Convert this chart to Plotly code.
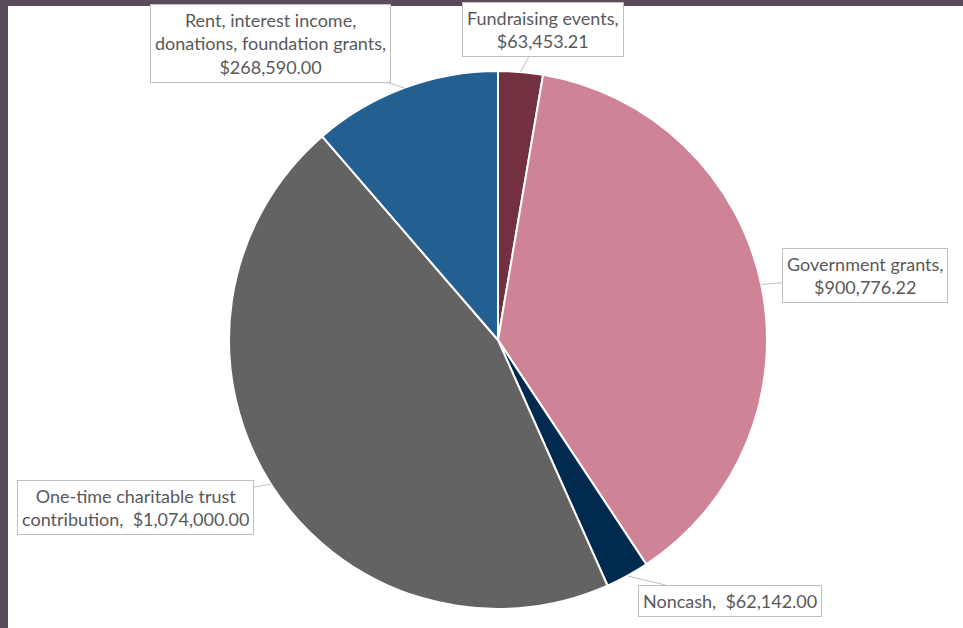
import math
import plotly.graph_objects as go

categories = ["Fundraising events", "Government grants", "Noncash",
              "One-time charitable trust contribution",
              "Rent, interest income, donations, foundation grants"]
values = [63453.21, 900776.22, 62142.00, 1074000.00, 268590.00]
label_texts = ["Fundraising events,<br>$63,453.21",
               "Government grants,<br>$900,776.22",
               "Noncash,  $62,142.00",
               "One-time charitable trust<br>contribution,  $1,074,000.00",
               "Rent, interest income,<br>donations, foundation grants,<br>$268,590.00"]
colors = ["#73303f", "#cf8396", "#012a4f", "#636363", "#245f92"]

W, H = 963, 628
cx, cy, r = 498, 340, 269  # pixel center/radius of pie

fig = go.Figure(go.Pie(
    labels=categories, values=values, sort=False, direction="clockwise",
    rotation=0, textinfo="none", hoverinfo="label+value",
    marker=dict(colors=colors, line=dict(color="white", width=2)),
    domain=dict(x=[(cx - r) / W, (cx + r) / W],
                y=[(H - cy - r) / H, (H - cy + r) / H]),
    showlegend=False,
))

# label box centers (pixels)
box_centers = [(543, 30), (865, 275.5), (729.5, 600.5), (135, 507), (270, 43.5)]

total = sum(values)
cum = 0.0
annotations = []
for v, txt, (bx, by) in zip(values, label_texts, box_centers):
    mid = (cum + v / 2) / total * 2 * math.pi
    cum += v
    px = cx + r * math.sin(mid)
    py = cy - r * math.cos(mid)
    annotations.append(dict(
        x=px / W, y=1 - py / H, xref="paper", yref="paper",
        ax=bx - px, ay=by - py, axref="pixel", ayref="pixel",
        text=txt, showarrow=True, arrowhead=0, arrowwidth=1,
        arrowcolor="#bfbfbf", standoff=0,
        font=dict(family="Lato", size=18, color="#595959"),
        bgcolor="white", bordercolor="#bfbfbf", borderwidth=1, borderpad=4,
        align="center",
    ))

fig.update_layout(
    width=W, height=H, margin=dict(l=0, r=0, t=0, b=0),
    paper_bgcolor="white", plot_bgcolor="white",
    annotations=annotations,
    shapes=[
        dict(type="rect", xref="paper", yref="paper", x0=0, x1=1,
             y0=1 - 6 / H, y1=1, fillcolor="#584c58", line_width=0, layer="above"),
        dict(type="rect", xref="paper", yref="paper", x0=0, x1=8 / W,
             y0=0, y1=1, fillcolor="#584c58", line_width=0, layer="above"),
    ],
)

fig.write_html("out.html", config={"displayModeBar": False},
               post_script="document.body.style.margin='0';"
                           "document.body.style.overflow='hidden';")
